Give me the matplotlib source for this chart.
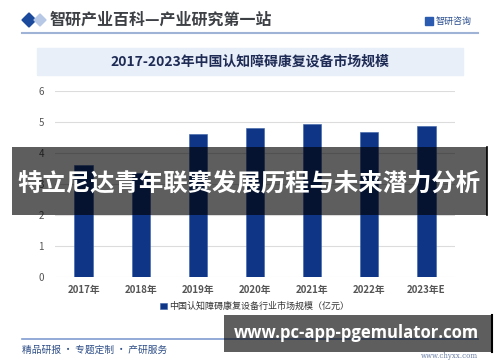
import matplotlib
matplotlib.use('Agg')
import matplotlib.pyplot as plt
from matplotlib.patches import Rectangle, Polygon
import numpy as np

plt.rcParams['font.family'] = ['Noto Sans CJK SC', 'DejaVu Sans']

years = ['2017年', '2018年', '2019年', '2020年', '2021年', '2022年', '2023年E']
market_size = [3.61, 3.37, 4.60, 4.82, 4.95, 4.68, 4.88]
y_ticks = [0, 1, 2, 3, 4, 5, 6]

title_top = '智研产业百科—产业研究第一站'
chart_title = '2017-2023年中国认知障碍康复设备市场规模'
legend_label = '中国认知障碍康复设备行业市场规模（亿元）'
footer_left = '精品研报 · 专题定制 · 产研服务'
footer_right = 'www.chyxx.com'
banner_text = '特立尼达青年联赛发展历程与未来潜力分析'
url_text = 'www.pc-app-pgemulator.com'

W, H = 500, 362
fig = plt.figure(figsize=(5, 3.62), dpi=100)
fig.patch.set_facecolor('white')


def fx(x):
    return x / W


def fy(y):
    return 1 - y / H


# header
fig.patches.append(Polygon([(fx(22), fy(20)), (fx(29), fy(13)), (fx(36), fy(20)), (fx(29), fy(27))],
                           closed=True, transform=fig.transFigure, color='#1b4a9c'))
fig.patches.append(Polygon([(fx(34), fy(20)), (fx(40), fy(14)), (fx(46), fy(20)), (fx(40), fy(26))],
                           closed=True, transform=fig.transFigure, color='#b7c7e6'))
fig.text(fx(50), fy(20), title_top, fontsize=11.5, fontweight='bold', color='#3d4045',
         va='center', ha='left')
fig.patches.append(Rectangle((fx(425), fy(25)), fx(8), 8 / H, transform=fig.transFigure,
                             color='#2a5bb0'))
fig.text(fx(436), fy(21), '智研咨询', fontsize=6.5, color='#2b4f8f', va='center', ha='left')
fig.lines.append(plt.Line2D([fx(22), fx(478)], [fy(33), fy(33)], transform=fig.transFigure,
                            color='#9fb3d6', lw=1.5))

# subtitle box
fig.patches.append(Rectangle((fx(37), fy(75)), fx(426), 27 / H, transform=fig.transFigure,
                             color='#e9eff9'))
fig.text(fx(250), fy(62), chart_title, fontsize=10, fontweight='bold', color='#1e2b55',
         ha='center', va='center')

# chart
ax = fig.add_axes([fx(55), fy(277), fx(400), (277 - 91) / H])
x = np.arange(len(years))
ax.bar(x, market_size, width=0.32, color='#0f3686', edgecolor='#3a5fa8', linewidth=0.4,
       zorder=3, label=legend_label)
ax.set_xlim(-0.5, len(years) - 0.5)
ax.set_ylim(0, 6)
ax.set_yticks(y_ticks)
ax.set_xticks(x)
ax.set_xticklabels(years)
ax.grid(axis='y', color='#dcdcdc', lw=0.8, zorder=0)
for s in ax.spines.values():
    s.set_visible(False)
ax.tick_params(length=0, labelsize=7, labelcolor='#555555')
ax.tick_params(axis='y', pad=8)
ax.tick_params(axis='x', pad=6)
for lbl in ax.get_xticklabels():
    lbl.set_fontweight('bold')
ax.legend(loc='upper center', bbox_to_anchor=(0.5, -0.09), frameon=False, fontsize=6.5,
          handlelength=0.7, handleheight=0.7, handletextpad=0.3, labelcolor='#333333')

# footer
fig.lines.append(plt.Line2D([fx(22), fx(478)], [fy(339), fy(339)], transform=fig.transFigure,
                            color='#7f9ccf', lw=1.2))
fig.text(fx(22), fy(350), footer_left, fontsize=7, color='#2f4f88', va='center', ha='left')
fig.text(fx(478), fy(356), footer_right, fontsize=5, color='#6b7fa6', va='center', ha='right',
         family='DejaVu Serif')

# overlays
fig.patches.append(Rectangle((fx(12), fy(215)), fx(475), 68 / H, transform=fig.transFigure,
                             facecolor='black', alpha=0.63, zorder=10))
fig.lines.append(plt.Line2D([fx(487), fx(487)], [fy(215), fy(147)], transform=fig.transFigure,
                            color='black', lw=1.2, zorder=11))
fig.text(fx(249), fy(184), banner_text, fontsize=17.6, fontweight='bold', color='white',
         ha='center', va='center', zorder=12)

fig.patches.append(Rectangle((fx(224), fy(352)), fx(268), 37 / H, transform=fig.transFigure,
                             facecolor='black', alpha=0.63, zorder=10))
fig.lines.append(plt.Line2D([fx(492), fx(492)], [fy(352), fy(315)], transform=fig.transFigure,
                            color='black', lw=1.5, zorder=11))
fig.text(fx(356), fy(333), url_text, fontsize=12, fontweight='bold', color='white',
         ha='center', va='center', zorder=12, family=['Open Sans', 'DejaVu Sans'])

fig.savefig('out.png', dpi=100)
